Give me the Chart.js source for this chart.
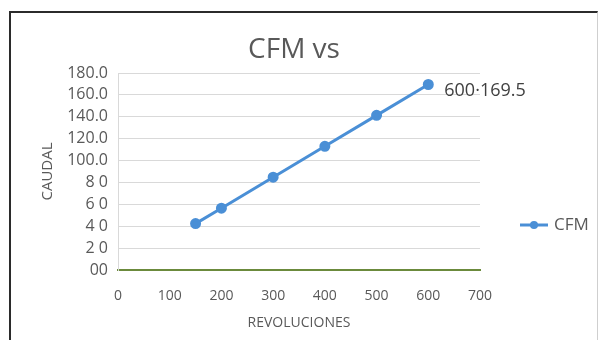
<!DOCTYPE html>
<html>
<head>
<meta charset="utf-8">
<script src="https://cdn.jsdelivr.net/npm/chart.js@4"></script>
<style>
  body { margin: 0; background: #fff; }
  #wrap { position: relative; width: 600px; height: 340px; overflow: hidden; }
  #frame {
    position: absolute; left: 9px; top: 11px; width: 586px; height: 360px;
    border-left: 2px solid #2b2b2b; border-top: 2px solid #2b2b2b; border-right: 1px solid #cfcfcf;
  }
  canvas { position: absolute; left: 0; top: 0; }
</style>
</head>
<body>
<div id="wrap">
  <div id="frame"></div>
  <canvas id="cfmChart" width="600" height="340"></canvas>
</div>
<script>
const rpm = [150, 200, 300, 400, 500, 600];
const cfm = [42.4, 56.5, 84.8, 113.0, 141.3, 169.5];
const yTickLabels = ['00', '2 0', '4 0', '6 0', '8 0', '100.0', '120.0', '140.0', '160.0', '180.0'];
const xTicks = [0, 100, 200, 300, 400, 500, 600, 700];
const chartTitle = 'CFM vs';

const gray = '#595959';
const blue = '#4a8fd6';

// title, point label and legend drawn by hand so they sit where the original has them
const extras = {
  id: 'extras',
  afterDatasetsDraw(chart) {
    const ctx = chart.ctx;
    const meta = chart.getDatasetMeta(0);
    const i = rpm.length - 1;
    const last = meta.data[i];
    ctx.save();
    ctx.textBaseline = 'middle';

    ctx.font = '28px "Open Sans"';
    ctx.fillStyle = gray;
    ctx.textAlign = 'center';
    ctx.fillText(chartTitle, 294, 50);
    ctx.textAlign = 'left';

    ctx.font = '18px "Open Sans"';
    ctx.fillStyle = '#404040';
    ctx.fillText(rpm[i] + '·' + cfm[i], last.x + 16, last.y + 6);

    const lx = chart.chartArea.right + 40;
    const ly = chart.chartArea.bottom - 45;
    ctx.strokeStyle = blue;
    ctx.lineWidth = 3;
    ctx.beginPath();
    ctx.moveTo(lx, ly);
    ctx.lineTo(lx + 28, ly);
    ctx.stroke();
    ctx.fillStyle = blue;
    ctx.beginPath();
    ctx.arc(lx + 14, ly, 4, 0, Math.PI * 2);
    ctx.fill();
    ctx.font = '17px "Open Sans"';
    ctx.fillStyle = gray;
    ctx.fillText('CFM', lx + 34, ly);
    ctx.restore();
  }
};

new Chart(document.getElementById('cfmChart'), {
  type: 'scatter',
  data: {
    datasets: [{
      label: 'CFM',
      data: rpm.map((r, i) => ({ x: r, y: cfm[i] })),
      showLine: true,
      borderColor: blue,
      backgroundColor: blue,
      borderWidth: 3,
      pointRadius: 4,
      pointHoverRadius: 4
    }]
  },
  options: {
    responsive: false,
    animation: false,
    layout: { padding: { left: 12, right: 120, top: 73, bottom: 0 } },
    plugins: {
      legend: { display: false },
      tooltip: { enabled: false },
      title: { display: false }
    },
    scales: {
      x: {
        type: 'linear',
        min: 0,
        max: 700,
        afterFit: s => { s.height = 70; },
        afterBuildTicks: s => { s.ticks = xTicks.map(v => ({ value: v })); },
        grid: { display: false, drawTicks: false },
        border: { display: true, color: '#6b8a3c', width: 2 },
        ticks: {
          autoSkip: false,
          maxRotation: 0,
          padding: 18,
          color: gray,
          font: { family: 'Open Sans', size: 14 }
        },
        title: {
          display: true,
          text: 'REVOLUCIONES',
          color: gray,
          font: { family: 'Open Sans', size: 14 },
          padding: { top: 0, bottom: 9 }
        }
      },
      y: {
        min: 0,
        max: 180,
        afterFit: s => { s.width = 106; },
        grid: { color: '#d9d9d9', drawTicks: false },
        border: { display: true, color: '#d9d9d9' },
        ticks: {
          stepSize: 20,
          autoSkip: false,
          padding: 10,
          color: gray,
          font: { family: 'Open Sans', size: 16 },
          callback: v => yTickLabels[Math.round(v / 20)]
        },
        title: {
          display: true,
          text: 'CAUDAL',
          color: gray,
          font: { family: 'Open Sans', size: 15 },
          padding: { top: 27, bottom: 0 }
        }
      }
    }
  },
  plugins: [extras]
});
</script>
</body>
</html>
